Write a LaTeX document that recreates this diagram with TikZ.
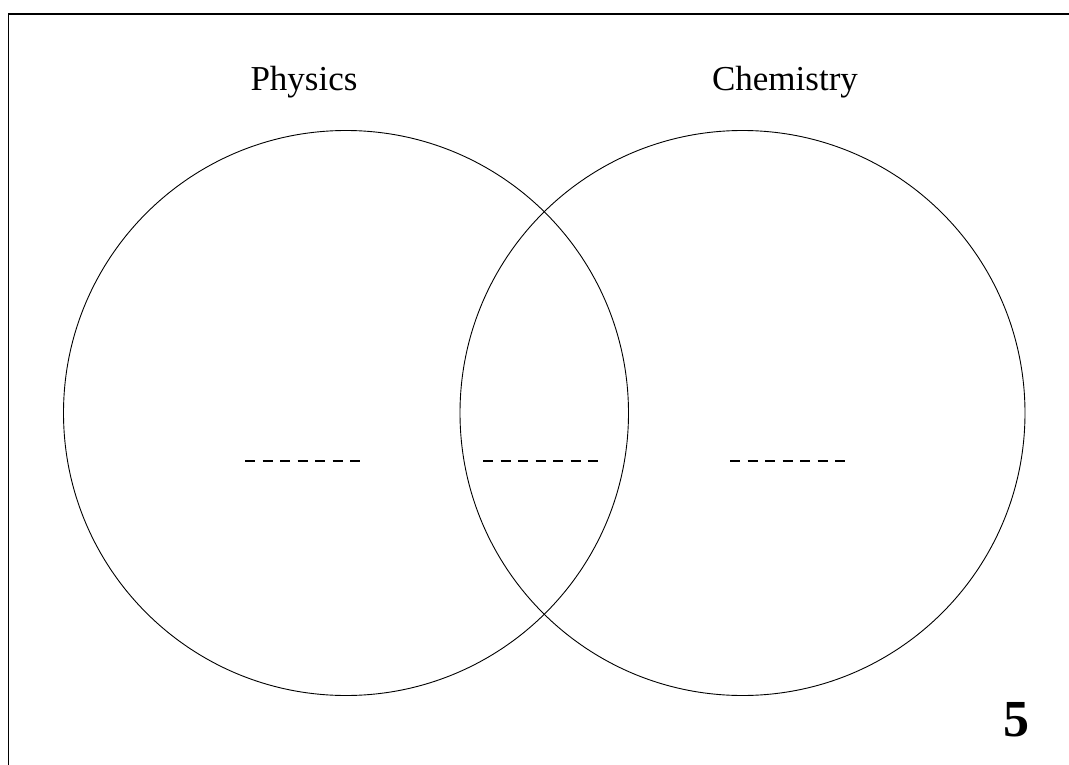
\documentclass[tikz,border=0pt]{standalone}
\usepackage{fontspec}
\setmainfont{Liberation Serif}
\begin{document}
\begin{tikzpicture}[x=1pt,y=-1pt,
  setcircle/.style={circle,draw,line width=0.9pt,inner sep=0pt,outer sep=0pt,minimum size=565pt},
  setlabel/.style={font=\fontsize{35}{40}\selectfont,inner sep=0pt,anchor=base},
  blank/.style={line width=1.3pt,dash pattern=on 10pt off 7.5pt},
  framestyle/.style={line width=1.5pt}]
\useasboundingbox (0,0) rectangle (1069,765);
\draw[framestyle] (8.5,765) -- (8.5,14) -- (1069,14);
\node[setcircle] (phys) at (346,413) {};
\node[setcircle] (chem) at (742.5,413) {};
\node[setlabel] (lphys) at (304,91) {Physics};
\node[setlabel] (lchem) at (785,91) {Chemistry};
\node[font=\fontsize{52}{56}\selectfont\bfseries,inner sep=0pt,anchor=base] (num) at (1016,736) {5};
\draw[blank] (245,461) -- (360,461);
\draw[blank] (483,461) -- (598,461);
\draw[blank] (730,461) -- (845,461);
\end{tikzpicture}
\end{document}
